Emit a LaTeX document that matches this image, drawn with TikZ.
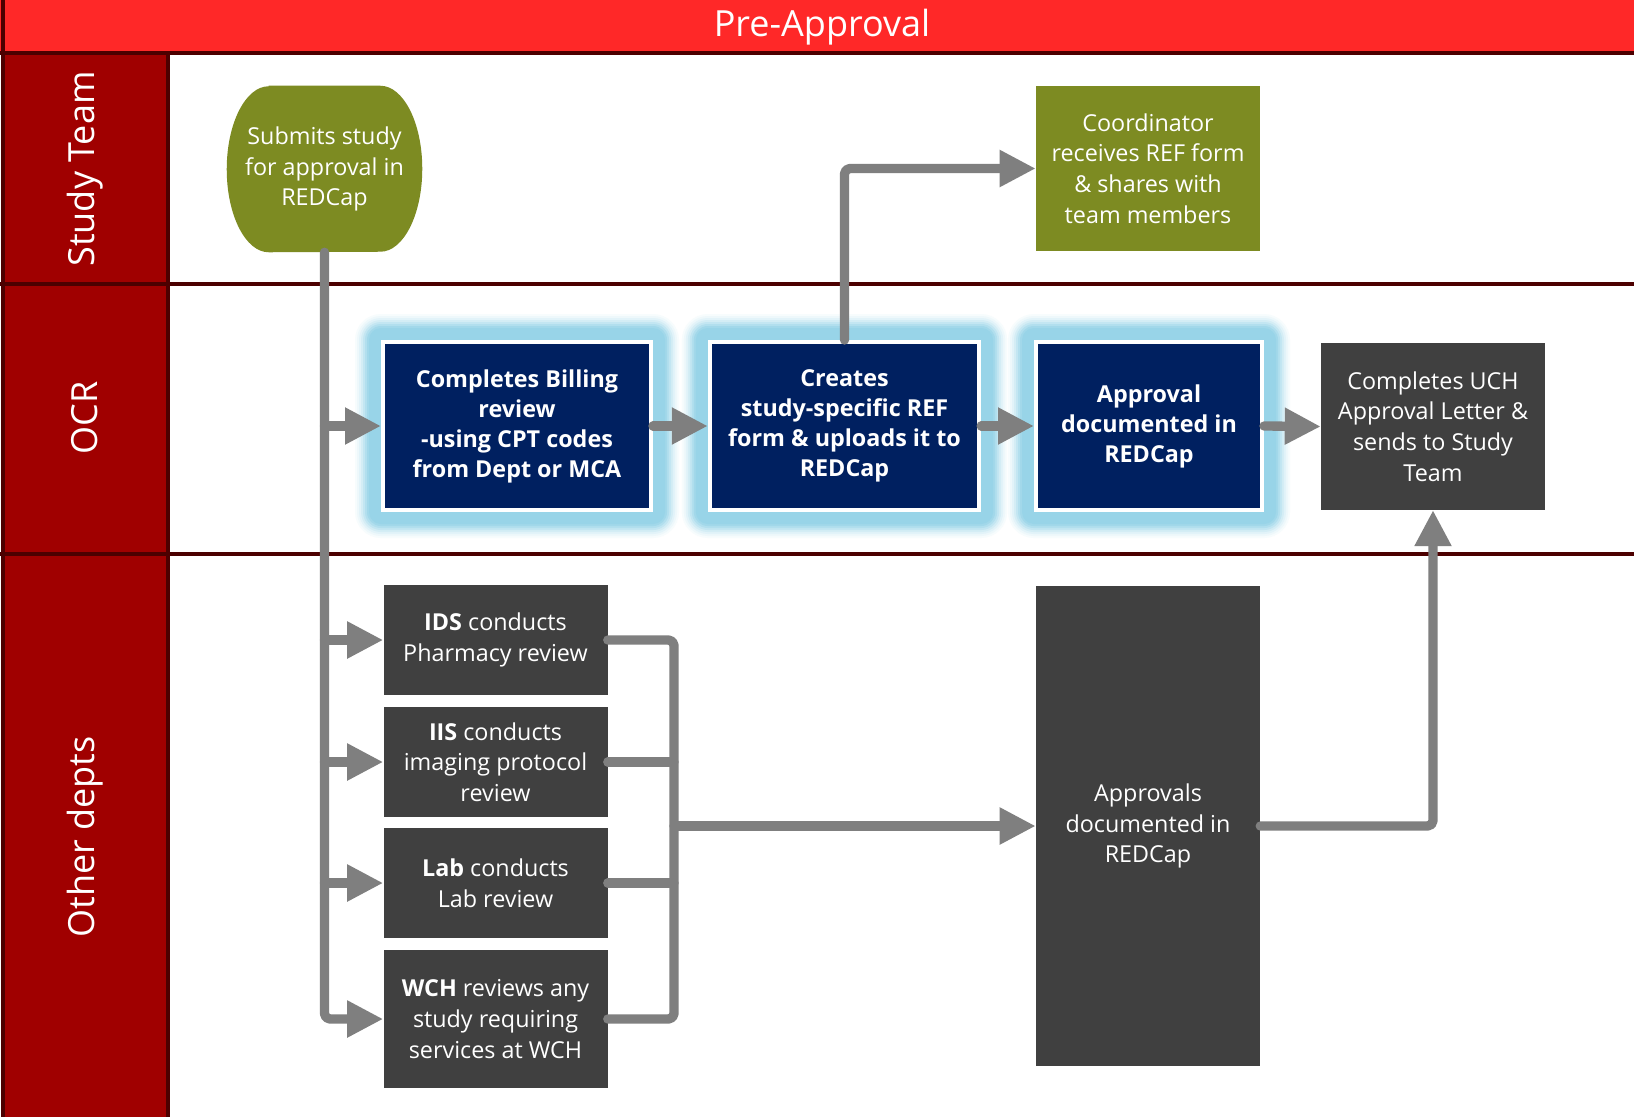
\documentclass[tikz,border=0pt]{standalone}
\usepackage{fontspec}
\setmainfont{Open Sans}
\usetikzlibrary{arrows.meta,backgrounds,calc}
\definecolor{hdr}{HTML}{FF2828}
\definecolor{lanecol}{HTML}{A00000}
\definecolor{darkline}{HTML}{4C0000}
\definecolor{navy}{HTML}{002060}
\definecolor{boxgray}{HTML}{404040}
\definecolor{linegray}{HTML}{7F7F7F}
\definecolor{olivec}{HTML}{7D8B22}
\definecolor{glow}{HTML}{98D4E8}
\pgfdeclarelayer{bottom}
\pgfsetlayers{bottom,background,main}
\begin{document}
\begin{tikzpicture}[x=0.75pt,y=-0.75pt,
  conn/.style={draw=linegray, line width=7pt, line cap=round, line join=round, rounded corners=4pt},
  arr/.style={conn, -{Triangle[length=27pt,width=26pt]}},
  txt/.style={font=\fontsize{17.5}{23}\selectfont, text=white, align=center, inner sep=0pt},
  graybox/.style={txt, fill=boxgray, minimum width=168pt},
  navybox/.style={txt, font=\fontsize{17.5}{22.5}\selectfont\bfseries, fill=navy, draw=white, line width=3pt, minimum height=126pt},
  olivebox/.style={txt, fill=olivec, minimum width=168pt, minimum height=123.75pt},
  lanelabel/.style={text=white, font=\fontsize{27}{30}\selectfont, rotate=90, inner sep=0pt},
  sep/.style={draw=darkline, line width=3pt},
]
\useasboundingbox (0,0) rectangle (1634,1117);

% lanes
\begin{pgfonlayer}{bottom}
  \fill[white] (0,0) rectangle (1634,1117);
  \fill[hdr] (0,0) rectangle (1634,52.5);
  \fill[lanecol] (4,52.5) rectangle (167.5,1117);
  \draw[sep] (0,52.5) -- (1634,52.5);
  \draw[sep] (0,283.5) -- (1634,283.5);
  \draw[sep] (0,554) -- (1634,554);
  \draw[sep] (3,0) -- (3,1117);
  \draw[sep] (167.5,52.5) -- (167.5,1117);
\end{pgfonlayer}

\node[text=white, font=\fontsize{27}{30}\selectfont, inner sep=0pt] (title) at (822,27) {Pre-Approval};
\node[lanelabel] (lst) at (85,169) {Study Team};
\node[lanelabel] (locr) at (85,418) {OCR};
\node[lanelabel] (loth) at (85,837) {Other depts};

% nodes
\node[txt, minimum width=146.25pt, minimum height=124.5pt] (sub) at (324.5,169) {Submits study\\for approval in\\REDCap};
\node[olivebox] (coord) at (1148,168.5) {Coordinator\\receives REF form\\\& shares with\\team members};

\node[navybox, minimum width=201pt] (bill) at (517,426) {Completes Billing\\review\\-using CPT codes\\from Dept or MCA};
\node[navybox, minimum width=202pt] (creat) at (844.5,426) {Creates\\study-specific REF\\form \& uploads it to\\REDCap};
\node[navybox, minimum width=169.5pt] (appr) at (1149,426) {Approval\\documented in\\REDCap};
\node[graybox, minimum height=125pt] (uch) at (1433,426.5) {Completes UCH\\Approval Letter \&\\sends to Study\\Team};

\node[graybox, minimum height=82pt] (ids) at (495.5,640) {\textbf{IDS} conducts\\Pharmacy review};
\node[graybox, minimum height=82pt] (iis) at (495.5,762) {\textbf{IIS} conducts\\imaging protocol\\review};
\node[graybox, minimum height=82pt] (lab) at (495.5,883) {\textbf{Lab} conducts\\Lab review};
\node[graybox, minimum height=103.5pt] (wch) at (495.5,1019) {\textbf{WCH} reviews any\\study requiring\\services at WCH};
\node[graybox, minimum height=360pt] (apps) at (1148,826) {Approvals\\documented in\\REDCap};

\coordinate (colx) at (674,0);

% shapes and glows
\begin{pgfonlayer}{background}
  \fill[olivec] ([xshift=31.5pt]sub.north west) -- ([xshift=-31.5pt]sub.north east)
     arc[start angle=90, end angle=-90, x radius=31.5pt, y radius=62.25pt]
     -- ([xshift=31.5pt]sub.south west)
     arc[start angle=270, end angle=90, x radius=31.5pt, y radius=62.25pt] -- cycle;
  \foreach \n in {bill,creat,appr}{
    \foreach \d/\c in {19.5/8,18/16,16.5/28,15/42,13.5/58,12/75,10.5/90,9/100}{
      \fill[glow!\c!white, rounded corners=\d pt]
        ([shift={(-\d pt,\d pt)}]\n.north west) rectangle ([shift={(\d pt,-\d pt)}]\n.south east);
    }
  }
\end{pgfonlayer}

% connectors
\draw[arr] (sub.south) |- (wch.west);
\draw[arr] (sub.south |- bill.west) -- (bill.west);
\draw[arr] (sub.south |- ids.west) -- (ids.west);
\draw[arr] (sub.south |- iis.west) -- (iis.west);
\draw[arr] (sub.south |- lab.west) -- (lab.west);

\draw[arr] (bill.east) -- (creat.west);
\draw[arr] (creat.north) |- (coord.west);
\draw[arr] (creat.east) -- (appr.west);
\draw[arr] (appr.east) -- (uch.west);

\draw[conn] (ids.east) -- (ids.east -| colx) -- (wch.east -| colx) -- (wch.east);
\draw[conn] (iis.east) -- (iis.east -| colx);
\draw[conn] (lab.east) -- (lab.east -| colx);
\draw[arr] (apps.west -| colx) -- (apps.west);
\draw[arr] (apps.east) -| (uch.south);
\end{tikzpicture}
\end{document}
